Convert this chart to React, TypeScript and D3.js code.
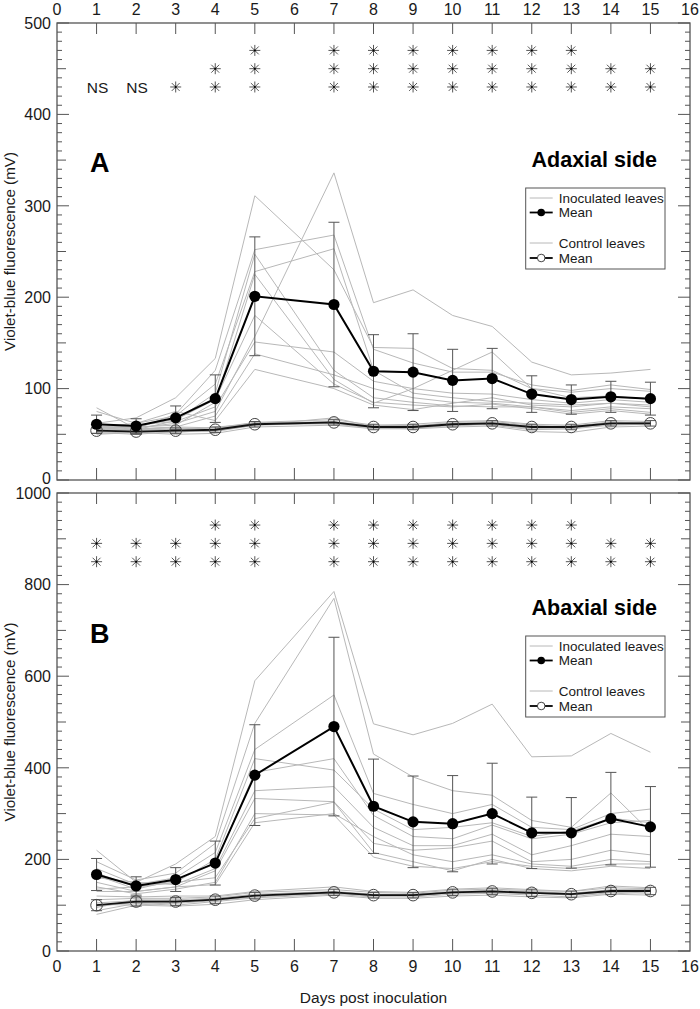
import React from "react";
import * as d3 from "d3";

// ---------- DATA ----------
const days = [1, 2, 3, 4, 5, 7, 8, 9, 10, 11, 12, 13, 14, 15];
const xTickValues = d3.range(0, 17);

// Panel A: adaxial side (mV)
const adaxialInoculated = [
  [62, 68, 90, 133, 311, 230, 145, 144, 122, 120, 100, 96, 100, 97],
  [58, 57, 62, 75, 157, 336, 194, 208, 180, 168, 129, 115, 117, 121],
  [79, 56, 72, 120, 252, 268, 143, 128, 118, 118, 104, 98, 104, 99],
  [75, 62, 70, 105, 228, 253, 120, 95, 90, 86, 84, 82, 84, 80],
  [60, 55, 65, 95, 247, 120, 90, 85, 81, 80, 80, 74, 78, 74],
  [55, 58, 60, 85, 225, 110, 84, 100, 120, 140, 100, 90, 92, 88],
  [57, 60, 66, 88, 180, 105, 85, 82, 80, 83, 78, 72, 76, 72],
  [54, 56, 58, 70, 138, 115, 100, 90, 85, 84, 80, 76, 80, 78],
  [58, 62, 75, 65, 121, 100, 82, 77, 84, 90, 82, 80, 84, 82],
  [56, 60, 64, 80, 151, 140, 108, 100, 95, 94, 88, 84, 88, 85],
];
const adaxialInocMean = [61, 59, 68, 89, 201, 192, 119, 118, 109, 111, 94, 88, 91, 89];
const adaxialInocSD = [10, 8, 13, 26, 65, 90, 40, 42, 34, 33, 20, 16, 17, 18];
const adaxialControl = [
  [50, 52, 50, 51, 58, 60, 56, 56, 58, 59, 53, 52, 58, 59],
  [57, 55, 58, 57, 63, 66, 60, 61, 64, 65, 61, 60, 65, 64],
  [52, 50, 53, 53, 60, 62, 57, 56, 60, 61, 56, 56, 60, 61],
  [55, 54, 56, 56, 62, 64, 59, 59, 62, 63, 59, 59, 63, 63],
  [53, 55, 55, 54, 60, 68, 58, 57, 60, 61, 57, 58, 61, 62],
  [56, 52, 54, 58, 61, 62, 60, 59, 63, 64, 60, 57, 64, 61],
  [51, 53, 52, 55, 63, 61, 57, 58, 61, 60, 55, 56, 62, 60],
  [54, 56, 57, 55, 62, 63, 58, 60, 59, 62, 58, 59, 61, 63],
];
const adaxialCtrlMean = [54, 53, 54, 55, 61, 63, 58, 58, 61, 62, 58, 58, 62, 62];
const adaxialCtrlSD = [3, 3, 3, 3, 3, 3, 3, 3, 3, 3, 3, 3, 3, 3];
const adaxialSig = ["NS", "NS", "*", "**", "***", "***", "***", "***", "***", "***", "***", "***", "**", "**"];
const adaxialSigRows = [430, 450, 470];

// Panel B: abaxial side (mV)
const abaxialInoculated = [
  [220, 150, 190, 250, 590, 785, 496, 472, 497, 539, 424, 426, 475, 434],
  [195, 155, 170, 235, 497, 770, 430, 380, 350, 340, 285, 270, 345, 260],
  [180, 145, 160, 215, 440, 559, 344, 320, 300, 320, 270, 265, 300, 310],
  [170, 140, 150, 200, 420, 395, 310, 265, 270, 280, 250, 262, 290, 280],
  [165, 135, 155, 190, 390, 420, 296, 250, 245, 275, 245, 255, 280, 285],
  [160, 150, 145, 180, 350, 359, 270, 230, 230, 255, 210, 230, 255, 250],
  [150, 130, 140, 175, 333, 326, 235, 220, 225, 240, 195, 200, 220, 210],
  [140, 125, 135, 150, 300, 297, 205, 185, 180, 195, 185, 180, 190, 190],
  [135, 140, 150, 160, 289, 325, 215, 195, 175, 200, 180, 175, 185, 180],
  [130, 130, 140, 145, 280, 300, 250, 210, 195, 210, 190, 185, 200, 195],
];
const abaxialInocMean = [167, 142, 156, 192, 384, 490, 316, 282, 278, 300, 258, 258, 289, 271];
const abaxialInocSD = [35, 20, 26, 48, 110, 195, 103, 100, 105, 110, 78, 77, 101, 88];
const abaxialControl = [
  [80, 100, 98, 102, 112, 122, 115, 115, 120, 122, 118, 116, 124, 122],
  [88, 104, 100, 108, 116, 124, 118, 118, 124, 126, 122, 118, 128, 126],
  [95, 112, 110, 112, 120, 128, 121, 120, 128, 130, 126, 122, 130, 130],
  [105, 110, 112, 115, 124, 130, 124, 124, 130, 132, 130, 126, 134, 134],
  [112, 115, 115, 118, 128, 134, 128, 126, 133, 135, 132, 130, 138, 136],
  [120, 118, 120, 120, 130, 140, 130, 128, 135, 138, 134, 130, 142, 138],
  [98, 106, 104, 110, 118, 126, 120, 122, 126, 128, 126, 124, 130, 132],
  [102, 100, 106, 112, 120, 127, 123, 122, 128, 129, 128, 125, 124, 130],
];
const abaxialCtrlMean = [100, 108, 108, 112, 121, 128, 122, 122, 128, 130, 127, 124, 131, 131];
const abaxialCtrlSD = [12, 10, 9, 8, 7, 7, 6, 6, 7, 7, 8, 7, 8, 8];
const abaxialSig = ["**", "**", "**", "***", "***", "***", "***", "***", "***", "***", "***", "***", "**", "**"];
const abaxialSigRows = [850, 890, 930];

const legendLabels = ["Inoculated leaves", "Mean", "Control leaves", "Mean"];

// ---------- STYLE ----------
const FONT = "'Liberation Sans', Arial, Helvetica, sans-serif";
const AXIS = "#555";
const TEXT = "#1a1a1a";
const THIN = "#b8b8b8";

const LEFT = 57;
const RIGHT = 690;
const x = d3.scaleLinear().domain([0, 16]).range([LEFT, RIGHT]);

type PanelProps = {
  top: number;
  bottom: number;
  yMax: number;
  minor: number;
  mid: number;
  major: number;
  inoc: number[][];
  inocMean: number[];
  inocSD: number[];
  ctrl: number[][];
  ctrlMean: number[];
  ctrlSD: number[];
  sig: string[];
  sigRows: number[];
  letter: string;
  title: string;
  titleBaseline: number;
  letterBaseline: number;
  legendTop: number;
  showTopLabels: boolean;
  showBottomLabels: boolean;
};

function Star({ cx, cy }: { cx: number; cy: number }) {
  const r = 5.5;
  const d = r * 0.72;
  return (
    <g stroke="#444" strokeWidth={0.9}>
      <line x1={cx} y1={cy - r} x2={cx} y2={cy + r} />
      <line x1={cx - r} y1={cy} x2={cx + r} y2={cy} />
      <line x1={cx - d} y1={cy - d} x2={cx + d} y2={cy + d} />
      <line x1={cx - d} y1={cy + d} x2={cx + d} y2={cy - d} />
      <circle cx={cx} cy={cy} r={1} fill="#000" stroke="none" />
    </g>
  );
}

function Panel(p: PanelProps) {
  const y = d3.scaleLinear().domain([0, p.yMax]).range([p.bottom, p.top]);
  const line = d3
    .line<number>()
    .x((_, i) => x(days[i]))
    .y((v) => y(v));

  const yTicks = d3.range(0, p.yMax + p.minor / 2, p.minor);
  const tickLen = (v: number) =>
    Math.abs(v % p.major) < 1e-6 ? 12 : Math.abs(v % p.mid) < 1e-6 ? 9 : 5;
  const majorTicks = d3.range(0, p.yMax + 1, p.major);
  const capW = 5.5;

  const errorBars = (mean: number[], sd: number[], key: string) =>
    mean.map((m, i) => {
      const cx = x(days[i]);
      const y1 = y(m - sd[i]);
      const y2 = y(m + sd[i]);
      return (
        <g key={key + i} stroke="#555" strokeWidth={1}>
          <line x1={cx} x2={cx} y1={y1} y2={y2} />
          <line x1={cx - capW} x2={cx + capW} y1={y1} y2={y1} />
          <line x1={cx - capW} x2={cx + capW} y1={y2} y2={y2} />
        </g>
      );
    });

  const lg = { x: 525.7, w: 139.3, top: p.legendTop };
  const rowOffsets = [10, 24.5, 55, 70];

  return (
    <g>
      {/* individual leaves */}
      {p.inoc.map((s, i) => (
        <path key={"i" + i} d={line(s) || ""} fill="none" stroke={THIN} strokeWidth={1} />
      ))}
      {p.ctrl.map((s, i) => (
        <path key={"c" + i} d={line(s) || ""} fill="none" stroke={THIN} strokeWidth={1} />
      ))}
      {errorBars(p.inocMean, p.inocSD, "ei")}
      {errorBars(p.ctrlMean, p.ctrlSD, "ec")}
      <path d={line(p.ctrlMean) || ""} fill="none" stroke="#111" strokeWidth={1.8} />
      <path d={line(p.inocMean) || ""} fill="none" stroke="#000" strokeWidth={2} />
      {p.ctrlMean.map((v, i) => (
        <circle key={"oc" + i} cx={x(days[i])} cy={y(v)} r={5.8} fill="none" stroke="#444" strokeWidth={1} />
      ))}
      {p.inocMean.map((v, i) => (
        <circle key={"fc" + i} cx={x(days[i])} cy={y(v)} r={5.6} fill="#000" />
      ))}

      {/* significance */}
      {p.sig.map((s, i) =>
        s === "NS" ? (
          <text
            key={"ns" + i}
            x={x(days[i]) + 1}
            y={y(p.sigRows[0])}
            dy="0.36em"
            textAnchor="middle"
            fontSize={15.5}
            fontFamily={FONT}
            fill={TEXT}
          >
            NS
          </text>
        ) : (
          <g key={"st" + i}>
            {d3.range(s.length).map((k) => (
              <Star key={k} cx={x(days[i])} cy={y(p.sigRows[k])} />
            ))}
          </g>
        )
      )}

      {/* frame */}
      <rect
        x={LEFT}
        y={p.top}
        width={RIGHT - LEFT}
        height={p.bottom - p.top}
        fill="none"
        stroke={AXIS}
        strokeWidth={1.3}
      />
      {/* y ticks left and right */}
      {yTicks.map((v) => (
        <g key={"yt" + v} stroke={AXIS} strokeWidth={1}>
          <line x1={LEFT} x2={LEFT + tickLen(v)} y1={y(v)} y2={y(v)} />
          <line x1={RIGHT} x2={RIGHT - tickLen(v)} y1={y(v)} y2={y(v)} />
        </g>
      ))}
      {majorTicks.map((v) => (
        <text
          key={"yl" + v}
          x={LEFT - 6}
          y={v === 0 && p.showTopLabels ? y(v) - 2 : y(v)}
          dy="0.36em"
          textAnchor="end"
          fontSize={16}
          fontFamily={FONT}
          fill={TEXT}
        >
          {v}
        </text>
      ))}
      {/* x ticks top and bottom */}
      {xTickValues
        .filter((v) => v > 0 && v < 16)
        .map((v) => (
          <g key={"xt" + v} stroke={AXIS} strokeWidth={1}>
            <line x1={x(v)} x2={x(v)} y1={p.top} y2={p.top + 11} />
            <line x1={x(v)} x2={x(v)} y1={p.bottom} y2={p.bottom - 12} />
          </g>
        ))}
      {p.showTopLabels &&
        xTickValues.map((v) => (
          <text
            key={"xtl" + v}
            x={x(v)}
            y={p.top - 8}
            textAnchor="middle"
            fontSize={16}
            fontFamily={FONT}
            fill={TEXT}
          >
            {v}
          </text>
        ))}
      {p.showBottomLabels &&
        xTickValues.map((v) => (
          <text
            key={"xbl" + v}
            x={x(v)}
            y={p.bottom + 21}
            textAnchor="middle"
            fontSize={16}
            fontFamily={FONT}
            fill={TEXT}
          >
            {v}
          </text>
        ))}

      {/* y axis title */}
      <text
        transform={`translate(15, ${(p.top + p.bottom) / 2}) rotate(-90)`}
        textAnchor="middle"
        fontSize={15.2}
        fontFamily={FONT}
        fill={TEXT}
      >
        Violet-blue fluorescence (mV)
      </text>

      {/* panel letter and title */}
      <text x={90} y={p.letterBaseline} fontSize={27} fontWeight="bold" fontFamily={FONT} fill="#000">
        {p.letter}
      </text>
      <text
        x={657}
        y={p.titleBaseline}
        textAnchor="end"
        fontSize={21.5}
        fontWeight="bold"
        fontFamily={FONT}
        fill="#000"
      >
        {p.title}
      </text>

      {/* legend */}
      <rect x={lg.x} y={lg.top} width={lg.w} height={81} fill="#fff" stroke={AXIS} strokeWidth={1} />
      {legendLabels.map((lab, i) => {
        const cy = lg.top + rowOffsets[i];
        const isMean = i === 1 || i === 3;
        return (
          <g key={"lg" + i}>
            <line
              x1={lg.x + 4}
              x2={lg.x + 27}
              y1={cy}
              y2={cy}
              stroke={isMean ? "#000" : THIN}
              strokeWidth={isMean ? 1.8 : 1}
            />
            {i === 1 && <circle cx={lg.x + 15.5} cy={cy} r={3.8} fill="#000" />}
            {i === 3 && <circle cx={lg.x + 15.5} cy={cy} r={3.8} fill="#fff" stroke="#444" strokeWidth={1} />}
            <text x={lg.x + 33} y={cy} dy="0.36em" fontSize={13.5} fontFamily={FONT} fill={TEXT}>
              {lab}
            </text>
          </g>
        );
      })}
    </g>
  );
}

export default function App() {
  return (
    <svg
      width={700}
      height={1009}
      style={{ position: "absolute", left: 0, top: 0, background: "#fff" }}
    >
      <rect x={0} y={0} width={700} height={1009} fill="#fff" />
      <Panel
        top={23}
        bottom={480}
        yMax={500}
        minor={10}
        mid={50}
        major={100}
        inoc={adaxialInoculated}
        inocMean={adaxialInocMean}
        inocSD={adaxialInocSD}
        ctrl={adaxialControl}
        ctrlMean={adaxialCtrlMean}
        ctrlSD={adaxialCtrlSD}
        sig={adaxialSig}
        sigRows={adaxialSigRows}
        letter="A"
        title="Adaxial side"
        titleBaseline={167}
        letterBaseline={172}
        legendTop={188}
        showTopLabels={true}
        showBottomLabels={false}
      />
      <Panel
        top={493}
        bottom={951}
        yMax={1000}
        minor={20}
        mid={100}
        major={200}
        inoc={abaxialInoculated}
        inocMean={abaxialInocMean}
        inocSD={abaxialInocSD}
        ctrl={abaxialControl}
        ctrlMean={abaxialCtrlMean}
        ctrlSD={abaxialCtrlSD}
        sig={abaxialSig}
        sigRows={abaxialSigRows}
        letter="B"
        title="Abaxial side"
        titleBaseline={615}
        letterBaseline={643}
        legendTop={636}
        showTopLabels={false}
        showBottomLabels={true}
      />
      <text
        x={(LEFT + RIGHT) / 2}
        y={1003}
        textAnchor="middle"
        fontSize={15.5}
        fontFamily={FONT}
        fill={TEXT}
      >
        Days post inoculation
      </text>
    </svg>
  );
}
